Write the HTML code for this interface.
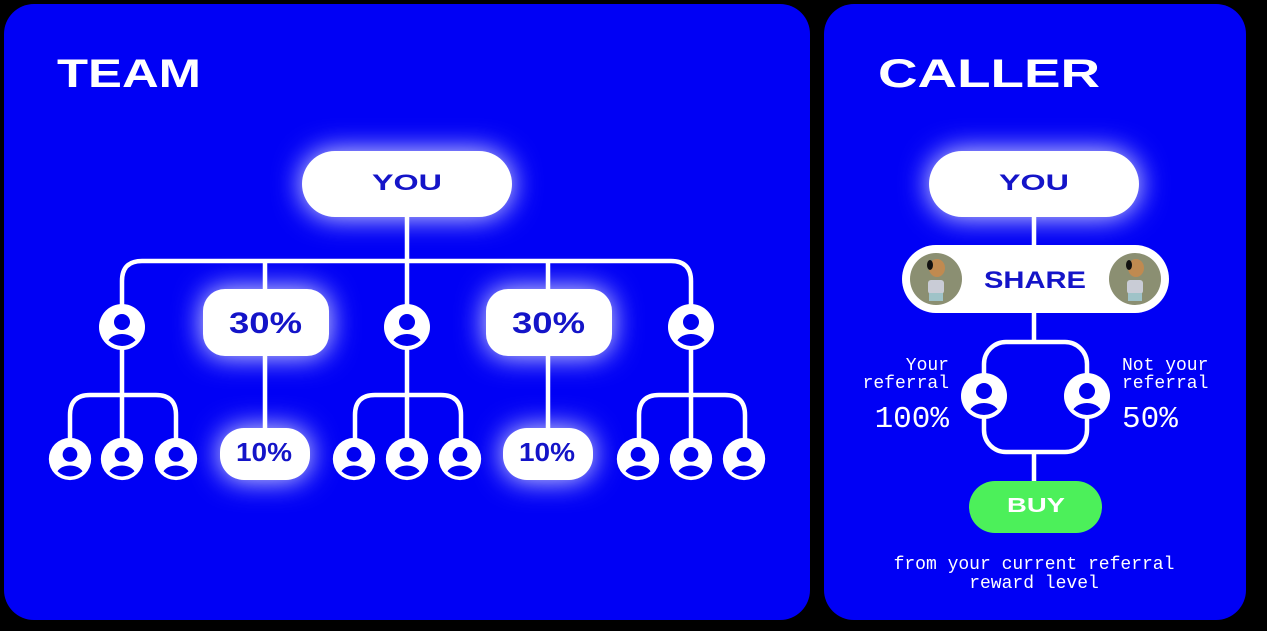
<!DOCTYPE html>
<html><head><meta charset="utf-8"><style>
html,body{margin:0;padding:0;background:#000;width:1267px;height:631px;overflow:hidden}
svg{display:block}
.h{font-family:"Liberation Sans",sans-serif;font-weight:bold;fill:#fff}
.l{font-family:"Liberation Sans",sans-serif;font-weight:bold;fill:#1414c8}
.m{font-family:"Liberation Mono",monospace;fill:#fff}
</style></head><body>
<svg width="1267" height="631" viewBox="0 0 1267 631" xmlns="http://www.w3.org/2000/svg">
<defs>
<filter id="g" x="-60%" y="-100%" width="220%" height="300%">
<feGaussianBlur in="SourceAlpha" stdDeviation="14" result="b"/>
<feFlood flood-color="#ffffff" flood-opacity="0.9"/>
<feComposite in2="b" operator="in" result="s"/>
<feMerge><feMergeNode in="s"/><feMergeNode in="SourceGraphic"/></feMerge>
</filter>
<clipPath id="cc"><circle cx="0" cy="0" r="19"/></clipPath>
<g id="p">
<circle r="23" fill="#fff"/>
<circle cx="0" cy="-5" r="8" fill="#0000f0"/>
<g clip-path="url(#cc)"><ellipse cx="0" cy="18" rx="15" ry="11" fill="#0000f0"/></g>
</g>
</defs>
<rect x="4" y="4" width="806" height="616" rx="30" fill="#0000f5"/>
<rect x="824" y="4" width="422" height="616" rx="30" fill="#0000f5"/>
<text class="h" x="57" y="87" font-size="40" textLength="144" lengthAdjust="spacingAndGlyphs">TEAM</text>
<text class="h" x="878" y="87" font-size="40" textLength="222" lengthAdjust="spacingAndGlyphs">CALLER</text>

<g filter="url(#g)">
<rect x="302" y="151" width="210" height="66" rx="33" fill="#fff"/>
<rect x="203" y="289" width="126" height="67" rx="22" fill="#fff"/>
<rect x="486" y="289" width="126" height="67" rx="22" fill="#fff"/>
<rect x="220" y="428" width="90" height="52" rx="24" fill="#fff"/>
<rect x="503" y="428" width="90" height="52" rx="24" fill="#fff"/>
<rect x="929" y="151" width="210" height="66" rx="33" fill="#fff"/>
</g>

<g stroke="#fff" stroke-width="4.5" fill="none">
<path d="M407 217 V261"/>
<path d="M122 327 V281 Q122 261 142 261 H671 Q691 261 691 281 V327"/>
<path d="M265 261 V289 M407 261 V327 M548 261 V289"/>
<path d="M265 356 V428 M548 356 V428"/>
<g id="br">
<path d="M122 327 V459"/>
<path d="M70 459 V415 Q70 395 90 395 H156 Q176 395 176 415 V459"/>
</g>
<use href="#br" x="285"/>
<use href="#br" x="569"/>
<path d="M1034 217 V250 M1034 310 V342 M1034 452 V485"/>
<rect x="984" y="342" width="103" height="110" rx="22"/>
</g>

<rect x="902" y="245" width="267" height="68" rx="34" fill="#fff"/>
<rect x="969" y="481" width="133" height="52" rx="26" fill="#4cf05a"/>

<text class="l" x="372" y="190" font-size="22" textLength="70" lengthAdjust="spacingAndGlyphs">YOU</text>
<text class="l" x="999" y="190" font-size="22" textLength="70" lengthAdjust="spacingAndGlyphs">YOU</text>
<text class="l" x="229" y="333" font-size="30" textLength="73" lengthAdjust="spacingAndGlyphs">30%</text>
<text class="l" x="512" y="333" font-size="30" textLength="73" lengthAdjust="spacingAndGlyphs">30%</text>
<text class="l" x="236" y="461" font-size="26" textLength="56" lengthAdjust="spacingAndGlyphs">10%</text>
<text class="l" x="519" y="461" font-size="26" textLength="56" lengthAdjust="spacingAndGlyphs">10%</text>
<text class="l" x="984" y="288" font-size="24" textLength="102" lengthAdjust="spacingAndGlyphs">SHARE</text>
<text class="h" x="1007" y="512" font-size="20" fill="#e8ffe8" textLength="58" lengthAdjust="spacingAndGlyphs">BUY</text>

<use href="#p" x="122" y="327"/><use href="#p" x="407" y="327"/><use href="#p" x="691" y="327"/>
<g transform="translate(70 459) scale(0.92)"><use href="#p"/></g>
<g transform="translate(122 459) scale(0.92)"><use href="#p"/></g>
<g transform="translate(176 459) scale(0.92)"><use href="#p"/></g>
<g transform="translate(354 459) scale(0.92)"><use href="#p"/></g>
<g transform="translate(407 459) scale(0.92)"><use href="#p"/></g>
<g transform="translate(460 459) scale(0.92)"><use href="#p"/></g>
<g transform="translate(638 459) scale(0.92)"><use href="#p"/></g>
<g transform="translate(691 459) scale(0.92)"><use href="#p"/></g>
<g transform="translate(744 459) scale(0.92)"><use href="#p"/></g>
<use href="#p" x="984" y="396"/><use href="#p" x="1087" y="396"/>

<g id="dog">
<circle cx="936" cy="279" r="26" fill="#8b8f72"/>
<rect x="928" y="280" width="16" height="14" rx="3" fill="#c9ccd6"/>
<rect x="929" y="293" width="14" height="8" fill="#9fc3c8"/>
<ellipse cx="937" cy="268" rx="8" ry="9" fill="#c08a50"/>
<ellipse cx="930" cy="265" rx="3" ry="5" fill="#111"/>
</g>
<use href="#dog" x="199"/>

<g class="m" font-size="18">
<text x="949" y="370" text-anchor="end">Your</text>
<text x="949" y="388" text-anchor="end">referral</text>
<text x="949" y="427" text-anchor="end" font-size="31">100%</text>
<text x="1122" y="370">Not your</text>
<text x="1122" y="388">referral</text>
<text x="1122" y="427" font-size="31">50%</text>
<text x="1034" y="569" text-anchor="middle">from your current referral</text>
<text x="1034" y="588" text-anchor="middle">reward level</text>
</g>
</svg>
</body></html>
